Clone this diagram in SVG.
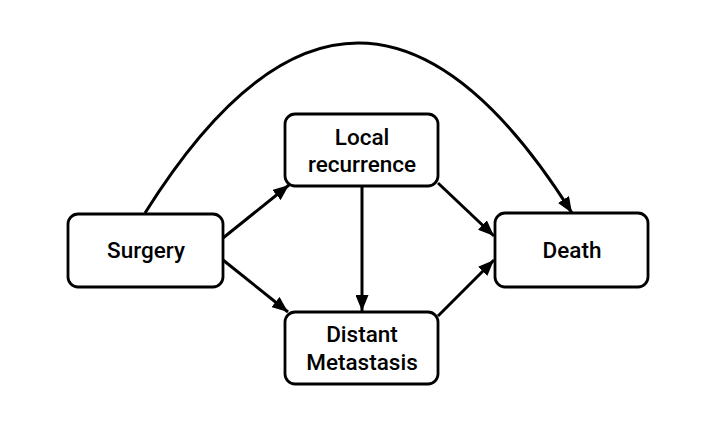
<svg xmlns="http://www.w3.org/2000/svg" width="720" height="448" viewBox="0 0 720 448">
  <style>
    .box { fill: #ffffff; stroke: #000000; stroke-width: 2.8; }
    .label { font-family: "Roboto", "Liberation Sans", "DejaVu Sans", sans-serif; font-weight: 500; font-size: 22.5px; fill: #000000; text-anchor: middle; }
    .edge { fill: none; stroke: #000000; stroke-width: 3; }
  </style>
  <defs>
    <marker id="arrow" viewBox="0 0 16 13" refX="16" refY="6.5" markerWidth="16" markerHeight="13" markerUnits="userSpaceOnUse" orient="auto">
      <path d="M0,0 L16,6.5 L0,13 Z" fill="#000000"/>
    </marker>
  </defs>
  <rect width="720" height="448" fill="#ffffff"/>

  <g id="connectors">
    <path class="edge" d="M145,213 Q358,-127 572,213" marker-end="url(#arrow)"/>
    <line class="edge" x1="223" y1="238" x2="289" y2="185" marker-end="url(#arrow)"/>
    <line class="edge" x1="223" y1="260" x2="288" y2="312" marker-end="url(#arrow)"/>
    <line class="edge" x1="362" y1="186" x2="362" y2="311" marker-end="url(#arrow)"/>
    <line class="edge" x1="438" y1="183" x2="494" y2="236" marker-end="url(#arrow)"/>
    <line class="edge" x1="438" y1="316" x2="494" y2="260" marker-end="url(#arrow)"/>
  </g>

  <g id="surgery">
    <rect class="box" x="68" y="214" width="155" height="73" rx="10"/>
    <text class="label" x="146" y="258">Surgery</text>
  </g>
  <g id="local-recurrence">
    <rect class="box" x="285" y="114" width="153" height="72" rx="10"/>
    <text class="label" x="362" y="145">Local</text>
    <text class="label" x="362" y="172">recurrence</text>
  </g>
  <g id="distant-metastasis">
    <rect class="box" x="285" y="312" width="153" height="72" rx="10"/>
    <text class="label" x="362" y="342">Distant</text>
    <text class="label" x="362" y="370">Metastasis</text>
  </g>
  <g id="death">
    <rect class="box" x="495" y="213" width="153" height="74" rx="10"/>
    <text class="label" x="572" y="258">Death</text>
  </g>
</svg>
